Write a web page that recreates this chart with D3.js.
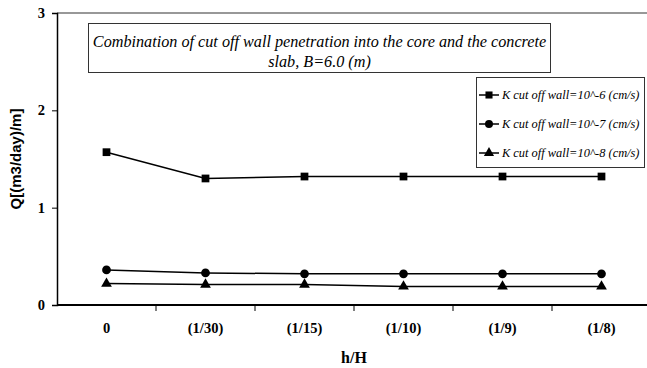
<!DOCTYPE html>
<html>
<head>
<style>
body { margin: 0; background: #fff; }
svg { display: block; }
.tick text { font-family: "Liberation Serif", "Times New Roman", serif; font-weight: bold; font-size: 14.5px; fill: #000; }
.serif { font-family: "Liberation Serif", "Times New Roman", serif; }
</style>
</head>
<body>
<script src="https://d3js.org/d3.v7.min.js"></script>
<script>

const W = 647, H = 368;

const categories = ["0", "(1/30)", "(1/15)", "(1/10)", "(1/9)", "(1/8)"];
const k6 = [1.57, 1.30, 1.32, 1.32, 1.32, 1.32];
const k7 = [0.36, 0.33, 0.32, 0.32, 0.32, 0.32];
const k8 = [0.22, 0.21, 0.21, 0.19, 0.19, 0.19];
const seriesNames = ["K cut off wall=10^-6 (cm/s)", "K cut off wall=10^-7 (cm/s)", "K cut off wall=10^-8 (cm/s)"];
const seriesSymbols = [d3.symbolSquare, d3.symbolCircle, d3.symbolTriangle];
const yTicks = [0, 1, 2, 3];

const margin = {top: 13, right: -4, bottom: 63, left: 57};

const svg = d3.select("body")
  .append("svg")
  .attr("width", W)
  .attr("height", H);

const x = d3.scaleBand()
  .domain(categories)
  .range([margin.left, W - margin.right])
  .padding(0);

const y = d3.scaleLinear()
  .domain([0, 3])
  .range([H - margin.bottom, margin.top]);

// plot frame top line
svg.append("line")
  .attr("x1", margin.left).attr("x2", W)
  .attr("y1", y(3)).attr("y2", y(3))
  .attr("stroke", "#333").attr("stroke-width", 1.2);

// y axis
const yAxis = svg.append("g")
  .attr("transform", `translate(${margin.left},0)`)
  .call(d3.axisLeft(y).tickValues(yTicks).tickSize(5).tickPadding(7).tickFormat(d3.format("d")));
yAxis.select(".domain").attr("stroke", "#000").attr("stroke-width", 1.5);
yAxis.selectAll(".tick line").attr("stroke", "#000");

// x axis labels
const xAxis = svg.append("g")
  .attr("transform", `translate(0,${y(0)})`)
  .call(d3.axisBottom(x).tickSize(0).tickPadding(18));
xAxis.select(".domain").remove();

svg.append("line")
  .attr("x1", margin.left).attr("x2", W)
  .attr("y1", y(0)).attr("y2", y(0))
  .attr("stroke", "#000").attr("stroke-width", 2);

svg.append("g")
  .selectAll("line")
  .data(categories.slice(1).concat(["end"]))
  .join("line")
  .attr("x1", d => d === "end" ? x.range()[1] : x(d))
  .attr("x2", d => d === "end" ? x.range()[1] : x(d))
  .attr("y1", y(0)).attr("y2", y(0) + 6)
  .attr("stroke", "#000").attr("stroke-width", 1);

// axis titles
svg.append("text")
  .attr("class", "serif")
  .attr("x", x("(1/10)"))
  .attr("y", 363)
  .attr("text-anchor", "middle")
  .style("font-weight", "bold")
  .style("font-size", "16px")
  .text("h/H");

svg.append("text")
  .attr("transform", `translate(21,${(y(0) + y(3)) / 2}) rotate(-90)`)
  .attr("text-anchor", "middle")
  .style("font-family", "'Liberation Sans', Arial, sans-serif")
  .style("font-weight", "bold")
  .style("font-size", "15px")
  .text("Q[(m3/day)/m]");

// series
const allSeries = [k6, k7, k8];
const line = d3.line()
  .x((d, i) => x(categories[i]) + x.bandwidth() / 2)
  .y(d => y(d));

allSeries.forEach((vals, s) => {
  svg.append("path")
    .attr("d", line(vals))
    .attr("fill", "none")
    .attr("stroke", "#000")
    .attr("stroke-width", 1.5);
  svg.append("g")
    .selectAll("path")
    .data(vals)
    .join("path")
    .attr("transform", (d, i) => `translate(${x(categories[i]) + x.bandwidth() / 2},${y(d)})`)
    .attr("d", d3.symbol().type(seriesSymbols[s]).size(s === 2 ? 50 : 60))
    .attr("fill", "#000");
});

// title box
const tb = svg.append("g");
tb.append("rect")
  .attr("x", 88.5).attr("y", 23.5)
  .attr("width", 462).attr("height", 49)
  .attr("fill", "#fff").attr("stroke", "#333").attr("stroke-width", 1);
tb.append("text")
  .attr("class", "serif")
  .attr("x", 319.5).attr("y", 47)
  .attr("text-anchor", "middle")
  .style("font-style", "italic")
  .style("font-size", "16.2px")
  .text("Combination of cut off wall penetration into the core and the concrete");
tb.append("text")
  .attr("class", "serif")
  .attr("x", 319.5).attr("y", 67)
  .attr("text-anchor", "middle")
  .style("font-style", "italic")
  .style("font-size", "16.2px")
  .text("slab, B=6.0 (m)");

// legend
const lg = svg.append("g");
lg.append("rect")
  .attr("x", 476.5).attr("y", 77.5)
  .attr("width", 168).attr("height", 90)
  .attr("fill", "#fff").attr("stroke", "#333").attr("stroke-width", 1);
const legendY = d3.scalePoint().domain(seriesNames).range([95, 153]);
seriesNames.forEach((name, s) => {
  const ly = legendY(name);
  lg.append("line")
    .attr("x1", 479).attr("x2", 499)
    .attr("y1", ly).attr("y2", ly)
    .attr("stroke", "#000").attr("stroke-width", 1.5);
  lg.append("path")
    .attr("transform", `translate(489,${ly})`)
    .attr("d", d3.symbol().type(seriesSymbols[s]).size(s === 2 ? 45 : 50))
    .attr("fill", "#000");
  lg.append("text")
    .attr("class", "serif")
    .attr("x", 502).attr("y", ly + 4)
    .style("font-style", "italic")
    .style("font-size", "12.4px")
    .text(name);
});

</script>
</body>
</html>
